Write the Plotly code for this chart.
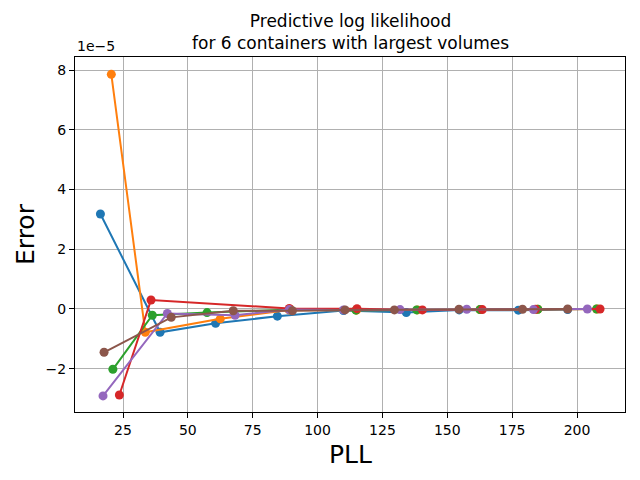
import plotly.graph_objects as go

# Error values are in units of 1e-5
blue_x = [16.3, 39.3, 60.7, 84.5, 110.0, 134.2, 154.6, 177.4, 196.4]
blue_y = [3.18, -0.78, -0.48, -0.24, -0.05, -0.12, -0.03, -0.04, -0.02]

orange_x = [20.5, 33.6, 62.5, 89.0, 115.0, 138.5, 162.6, 184.9, 207.6]
orange_y = [7.86, -0.78, -0.33, -0.03, -0.04, -0.03, -0.02, -0.01, 0.0]

green_x = [21.1, 36.3, 57.4, 89.5, 114.8, 138.2, 162.6, 184.9, 207.6]
green_y = [-2.02, -0.21, -0.12, -0.02, -0.04, -0.03, -0.02, -0.01, 0.0]

red_x = [23.6, 35.8, 89.1, 115.2, 140.4, 163.5, 184.0, 208.9]
red_y = [-2.88, 0.30, 0.02, 0.01, -0.03, -0.02, -0.01, 0.0]

purple_x = [17.3, 42.1, 68.2, 89.1, 110.0, 131.8, 157.5, 183.2, 204.0]
purple_y = [-2.91, -0.15, -0.21, -0.02, -0.03, -0.02, -0.01, -0.02, 0.0]

brown_x = [17.7, 43.6, 67.5, 90.3, 110.6, 129.6, 154.5, 179.0, 196.4]
brown_y = [-1.45, -0.28, -0.06, -0.06, -0.03, -0.03, -0.01, -0.01, 0.0]

x_ticks = [25, 50, 75, 100, 125, 150, 175, 200]
y_ticks = [-2, 0, 2, 4, 6, 8]

series = [
    (blue_x, blue_y, "#1f77b4"),
    (orange_x, orange_y, "#ff7f0e"),
    (green_x, green_y, "#2ca02c"),
    (red_x, red_y, "#d62728"),
    (purple_x, purple_y, "#9467bd"),
    (brown_x, brown_y, "#8c564b"),
]

fig = go.Figure()
for xs, ys, color in series:
    fig.add_trace(
        go.Scatter(
            x=xs,
            y=ys,
            mode="lines+markers",
            line=dict(color=color, width=2),
            marker=dict(color=color, size=9),
            showlegend=False,
        )
    )

axis_style = dict(
    showgrid=True,
    gridcolor="#b0b0b0",
    gridwidth=1,
    zeroline=False,
    showline=True,
    linecolor="black",
    linewidth=1,
    mirror=True,
    ticks="outside",
    ticklen=5,
    tickcolor="black",
    tickfont=dict(size=14, color="black"),
    automargin=False,
)

# the page body adds an 8px margin, so the figure is a bit smaller than the window
fig.update_layout(
    width=632,
    height=472,
    paper_bgcolor="white",
    plot_bgcolor="white",
    font=dict(family="DejaVu Sans", color="black"),
    margin=dict(l=67, r=15, t=49, b=68),
    xaxis=dict(axis_style, range=[6.5, 218.5], tickvals=x_ticks),
    yaxis=dict(axis_style, range=[-3.45, 8.44], tickvals=y_ticks),
    annotations=[
        # title
        dict(
            text="Predictive log likelihood<br>for 6 containers with largest volumes",
            xref="paper", yref="paper", x=0.5, y=1,
            xanchor="center", yanchor="bottom", yshift=2,
            showarrow=False, font=dict(size=17),
        ),
        # offset text for the y axis
        dict(
            text="1e\u22125",
            xref="paper", yref="paper", x=0, y=1,
            xanchor="left", yanchor="bottom", yshift=1,
            showarrow=False, font=dict(size=14),
        ),
        # axis titles
        dict(
            text="PLL",
            xref="paper", yref="paper", x=0.5, y=0,
            xanchor="center", yanchor="top", yshift=-26,
            showarrow=False, font=dict(size=25),
        ),
        dict(
            text="Error",
            xref="paper", yref="paper", x=0, y=0.5,
            xanchor="right", yanchor="middle", xshift=-33,
            textangle=-90, showarrow=False, font=dict(size=25),
        ),
    ],
)

fig.write_html("out.html")
